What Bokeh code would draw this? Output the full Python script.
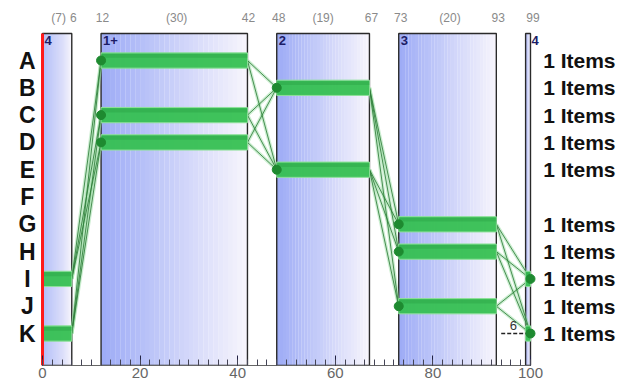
from bokeh.plotting import figure
from bokeh.models import Range1d, FixedTicker
from bokeh.core.properties import value
from bokeh.embed import file_html
from bokeh.resources import INLINE

# ---------------- data ----------------
rows = ["A", "B", "C", "D", "E", "F", "G", "H", "I", "J", "K"]
seg_names = ["4", "1+", "2", "3", "4"]
seg_starts = [0, 12, 48, 73, 99]
seg_ends = [6, 42, 67, 93, 100]
seg_rows = [["I", "K"], ["A", "C", "D"], ["B", "E"], ["G", "H", "J"], ["I", "K"]]
top_label_x = [3.3, 6.3, 12.3, 27.5, 42.2, 48.4, 57.5, 67.4, 73.4, 83.5, 93.4, 100.5]
top_label_text = ["(7)", "6", "12", "(30)", "42", "48", "(19)", "67", "73", "(20)", "93", "99"]
item_rows = ["A", "B", "C", "D", "E", "G", "H", "I", "J", "K"]
item_labels = ["1 Items"] * 10
gap_value = 6
gap_from, gap_to, gap_row = 94, 99, "K"
x_ticks = [0, 20, 40, 60, 80, 100]

ridx = {r: i for i, r in enumerate(rows)}

p = figure(frame_width=627, frame_height=365,
           x_range=Range1d(-8.607, 119.88), y_range=Range1d(11.172, -2.198),
           output_backend="svg", toolbar_location=None,
           y_axis_location=None, min_border_left=0, min_border_right=0,
           min_border_top=0, min_border_bottom=0)
p.outline_line_color = None
p.xgrid.visible = False
p.ygrid.visible = False
p.background_fill_color = "white"

box_top, box_bottom = -0.99, 11.172

def lerp(c1, c2, t):
    return "#%02x%02x%02x" % tuple(int(round(a + (b - a) * t)) for a, b in zip(c1, c2))

left_c = (158, 172, 246)
right_c = (246, 244, 252)
N = 30
ql, qr, qc = [], [], []
for s, e in zip(seg_starts, seg_ends):
    w = (e - s) / N
    for k in range(N):
        ql.append(s + k * w)
        qr.append(s + (k + 1) * w + 0.02)
        qc.append(lerp(left_c, right_c, k / (N - 1)))
p.quad(left=ql, right=qr, top=box_top, bottom=box_bottom, fill_color=qc, line_color=None)

# box borders
p.quad(left=seg_starts, right=seg_ends, top=box_top, bottom=box_bottom,
       fill_color=None, line_color="#2a2a2a", line_width=1.4)

# connection lines
lx, ly = [], []
for i in range(len(seg_starts) - 1):
    tx = seg_starts[i + 1] if i + 1 < len(seg_starts) - 1 else seg_ends[i + 1]
    for r1 in seg_rows[i]:
        for r2 in seg_rows[i + 1]:
            lx.append([seg_ends[i], tx])
            ly.append([ridx[r1], ridx[r2]])
p.multi_line(lx, ly, line_color="#8fd99a", line_width=3.5, line_alpha=0.45)
p.multi_line(lx, ly, line_color="#2f7d3a", line_width=1, line_alpha=0.85)

# bars
bl, br, by = [], [], []
for i, rs in enumerate(seg_rows):
    for r in rs:
        bl.append(seg_starts[i]); br.append(seg_ends[i]); by.append(ridx[r])
p.hbar(y=by, left=bl, right=br, height=0.56, fill_color="#36c052",
       line_color="#8ee09a", line_width=1, fill_alpha=0.95)
p.hbar(y=[v - 0.17 for v in by], left=bl, right=br, height=0.14,
       fill_color="#259a3e", line_color=None, fill_alpha=0.35)

# dots
dx, dy = [], []
for i, rs in enumerate(seg_rows):
    if i == 0:
        continue
    x = seg_ends[i] if i == len(seg_rows) - 1 else seg_starts[i]
    for r in rs:
        dx.append(x); dy.append(ridx[r])
p.scatter(dx, dy, size=9, fill_color="#1e8a30", line_color="#1e8a30")

# red line at 0
p.segment(x0=[0], y0=[box_top], x1=[0], y1=[box_bottom], line_color="#ff1a1a", line_width=3)

# gap marker
p.segment(x0=[gap_from], y0=[ridx[gap_row]], x1=[gap_to], y1=[ridx[gap_row]],
          line_color="#222222", line_width=1.6, line_dash="4 2")
p.text(x=[(gap_from + gap_to) / 2], y=[ridx[gap_row] - 0.12], text=[str(gap_value)],
       text_font=value("Liberation Sans"), text_font_size="13px", text_color="#333333",
       text_align="center", text_baseline="bottom")

# box labels
lab_x = [s + 0.4 for s in seg_starts[:-1]] + [seg_ends[-1] + 0.2]
p.text(x=lab_x, y=[box_top + 0.08] * len(lab_x), text=seg_names,
       text_font=value("Liberation Sans"), text_font_style="bold", text_font_size="13px",
       text_color="#1c1c66", text_align="left", text_baseline="top")

# top labels
p.text(x=top_label_x, y=[-1.575] * len(top_label_x), text=top_label_text,
       text_font=value("Liberation Sans"), text_font_size="12px", text_color="#8a8a8a",
       text_align="center", text_baseline="middle")

# row labels
p.text(x=[-3.1] * len(rows), y=list(range(len(rows))), text=rows,
       text_font=value("Liberation Sans"), text_font_style="bold", text_font_size="23px",
       text_color="#111111", text_align="center", text_baseline="middle")

# item labels
p.text(x=[102.6] * len(item_rows), y=[ridx[r] for r in item_rows], text=item_labels,
       text_font=value("Liberation Sans"), text_font_style="bold", text_font_size="21px",
       text_color="#111111", text_align="left", text_baseline="middle")

# x axis
ax = p.xaxis[0]
ax.ticker = FixedTicker(ticks=x_ticks, minor_ticks=list(range(0, 101, 2)))
ax.bounds = (0, 100)
ax.major_tick_in = 10
ax.major_tick_out = 0
ax.minor_tick_in = 6
ax.minor_tick_out = 0
ax.major_tick_line_color = "#222244"
ax.minor_tick_line_color = "#444455"
ax.axis_line_color = "#666666"
ax.major_label_standoff = 2
ax.major_label_text_font = "Liberation Sans"
ax.major_label_text_font_size = "15px"
ax.major_label_text_color = "#666666"

open("out.html", "w").write(file_html(p, INLINE))
